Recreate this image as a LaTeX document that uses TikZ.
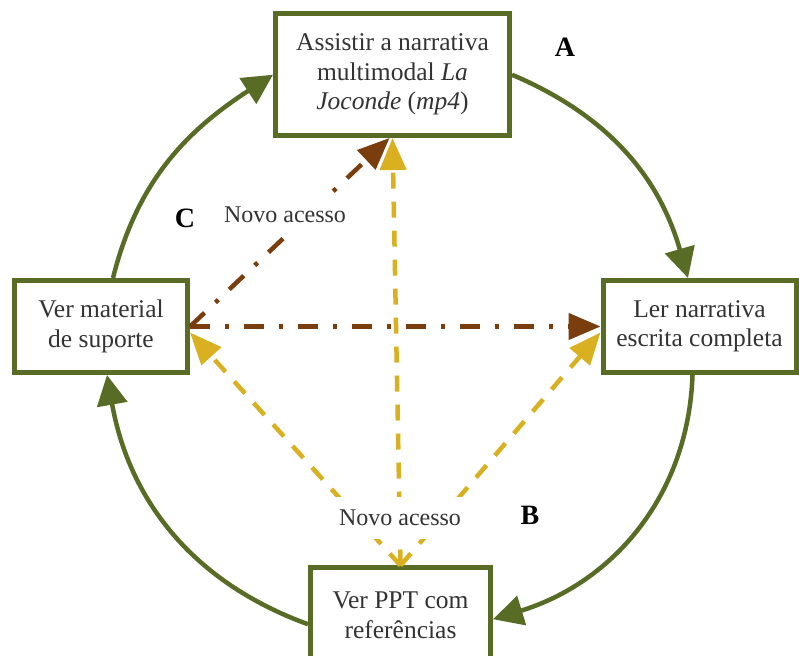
\documentclass[tikz,border=0pt]{standalone}
\usepackage{fontspec}
\setmainfont{Liberation Serif}
\usetikzlibrary{arrows.meta}
\definecolor{cgreen}{RGB}{88,108,38}
\definecolor{cbrown}{RGB}{122,62,14}
\definecolor{cyellow}{RGB}{216,176,32}
\definecolor{ctext}{RGB}{51,51,51}
\tikzset{
  stagebox/.style={draw=cgreen, line width=5pt, fill=white, inner sep=2pt,
    align=center, text=ctext, font=\fontsize{25.5}{29.5}\selectfont},
  cycle/.style={draw=cgreen, line width=4.5pt, -{Triangle[length=30pt,width=30pt]}},
  revisit/.style={draw=cyellow, line width=4.5pt, dash pattern=on 16pt off 13pt,
    -{Triangle[length=32pt,width=26pt]}},
  jump/.style={draw=cbrown, line width=4.5pt, dash pattern=on 20pt off 15pt on 4pt off 15pt,
    -{Triangle[length=32pt,width=26pt]}},
  accesslabel/.style={fill=white, inner xsep=10pt, inner ysep=13pt, text=ctext, font=\fontsize{24}{28}\selectfont},
  letterlabel/.style={font=\fontsize{28}{32}\selectfont\bfseries, text=black}
}
\begin{document}
\begin{tikzpicture}[x=1pt,y=1pt]
\useasboundingbox (0,0) rectangle (799,655);
% boxes
\node[stagebox, minimum width=234pt, minimum height=121.5pt] (T) at (392.5,580.25)
  {Assistir a narrativa\\multimodal \textit{La}\\\textit{Joconde} (\textit{mp4})};
\node[stagebox, minimum width=173pt, minimum height=92pt] (L) at (101,328.5)
  {Ver material\\de suporte};
\node[stagebox, minimum width=193pt, minimum height=92pt] (R) at (699.5,328.5)
  {Ler narrativa\\escrita completa};
\node[stagebox, minimum width=180pt, minimum height=94.5pt, anchor=north] (B) at (400.5,89.5)
  {Ver PPT com\\referências};
% dash-dot connectors (brown)
\draw[jump] (L.east) -- ([xshift=-3pt]T.south);
\draw[jump] (L.east) -- (R.west);
% dashed connectors (yellow)
\draw[revisit] (B.north) -- (T.south);
\draw[revisit] (B.north) -- ([yshift=-6pt]L.east);
\draw[revisit] (B.north) -- ([yshift=-6pt]R.west);
% labels covering the lines
\node[accesslabel] (N1) at (285,440) {Novo acesso};
\node[accesslabel] (N2) at (400,137) {Novo acesso};
% cycle arcs
\draw[cycle] ([xshift=12pt]L.north) to[out=76,in=213] (T.west);
\draw[cycle] (T.east) to[out=-23,in=106] ([xshift=-11.5pt]R.north);
\draw[cycle] ([xshift=-7pt]R.south) to[out=-92,in=17] ([yshift=-4pt]B.east);
\draw[cycle] ([yshift=-9pt]B.west) to[out=160,in=-80] ([xshift=6pt]L.south);
% letters
\node[letterlabel] (LA) at (565,608) {A};
\node[letterlabel] (LB) at (530,140) {B};
\node[letterlabel] (LC) at (185,437) {C};
\end{tikzpicture}
\end{document}
